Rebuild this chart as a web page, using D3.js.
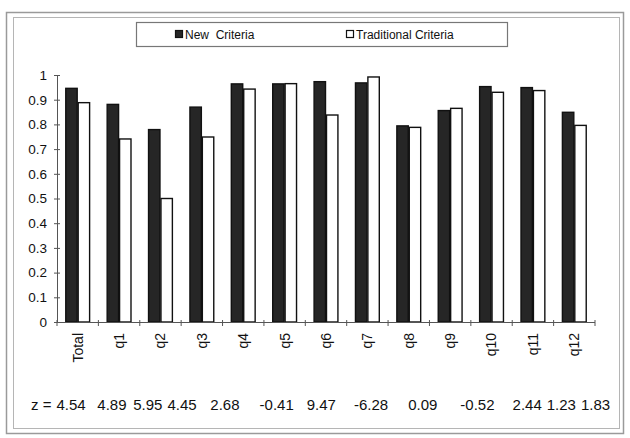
<!DOCTYPE html>
<html>
<head>
<meta charset="utf-8">
<script src="https://cdn.jsdelivr.net/npm/d3@7"></script>
<style>
  html, body { margin: 0; padding: 0; background: #fff; }
  svg { display: block; font-family: Arial, "Liberation Sans", sans-serif; }
</style>
</head>
<body>
<svg id="chart" width="630" height="438"></svg>
<script>
// Categories and the two series of proportions
const categories = ["Total", "q1", "q2", "q3", "q4", "q5", "q6", "q7", "q8", "q9", "q10", "q11", "q12"];
const newCriteria = [0.946, 0.881, 0.779, 0.870, 0.964, 0.964, 0.973, 0.968, 0.794, 0.856, 0.953, 0.949, 0.849];
const traditionalCriteria = [0.888, 0.741, 0.500, 0.749, 0.943, 0.965, 0.838, 0.992, 0.788, 0.865, 0.930, 0.937, 0.796];
const seriesNames = ["New  Criteria", "Traditional Criteria"];
const yTicks = [0, 0.1, 0.2, 0.3, 0.4, 0.5, 0.6, 0.7, 0.8, 0.9, 1];
// z statistics printed under each category
const zValues = ["4.54", "4.89", "5.95", "4.45", "2.68", "-0.41", "9.47", "-6.28", "0.09", "-0.52", "2.44", "1.23", "1.83"];
// spacing (px) typed between consecutive z values on the text line
const zGaps = [0, 11.7, 6.7, 5, 13.7, 20, 13, 18, 20, 23, 18, 5, 5];

const svg = d3.select("#chart");
const plot = { left: 57, right: 595, top: 75, bottom: 322 };

// outer frame (double rule)
svg.append("rect").attr("x", 6.5).attr("y", 12.5).attr("width", 617).attr("height", 421)
  .attr("fill", "none").attr("stroke", "#9a9a9a").attr("stroke-width", 1.5);
svg.append("rect").attr("x", 13.5).attr("y", 17.5).attr("width", 606).attr("height", 411)
  .attr("fill", "none").attr("stroke", "#b5b5b5").attr("stroke-width", 1);

const x = d3.scaleBand().domain(categories).range([plot.left, plot.right])
  .paddingInner(0.4).paddingOuter(0.2);
const x1 = d3.scaleBand().domain([0, 1]).range([0, x.bandwidth()]);
const y = d3.scaleLinear().domain([0, 1]).range([plot.bottom, plot.top]);

// bars
const rows = categories.map((c, i) => ({ c, vals: [newCriteria[i], traditionalCriteria[i]] }));
const g = svg.append("g");
rows.forEach(r => {
  r.vals.forEach((v, k) => {
    g.append("rect")
      .attr("x", x(r.c) + x1(k) + 0.5)
      .attr("y", y(v))
      .attr("width", x1.bandwidth() - 1)
      .attr("height", y(0) - y(v))
      .attr("fill", k === 0 ? "#262626" : "#ffffff")
      .attr("stroke", "#111")
      .attr("stroke-width", 1.4);
  });
});

// y axis
const yAxis = svg.append("g").attr("transform", `translate(${plot.left},0)`)
  .call(d3.axisLeft(y).tickValues(yTicks).tickFormat(d3.format("~g")).tickSizeInner(3).tickSizeOuter(0));
yAxis.select(".domain").attr("stroke", "#555");
yAxis.selectAll(".tick line").attr("stroke", "#555").attr("x1", 3).attr("x2", -3);
yAxis.selectAll(".tick text").attr("x", -10).attr("font-size", 13.5).attr("fill", "#111")
  .attr("font-family", "Arial, 'Liberation Sans', sans-serif");

// x axis with ticks at category boundaries
const xAxisG = svg.append("g");
xAxisG.append("line").attr("x1", plot.left).attr("x2", plot.right)
  .attr("y1", plot.bottom + 0.5).attr("y2", plot.bottom + 0.5).attr("stroke", "#555");
const step = x.step();
const boundaries = categories.map(c => x(c) - (step - x.bandwidth()) / 2).concat([plot.right]);
xAxisG.selectAll(".xt").data(boundaries).join("line")
  .attr("x1", d => d).attr("x2", d => d)
  .attr("y1", plot.bottom - 2).attr("y2", plot.bottom + 4)
  .attr("stroke", "#555");
xAxisG.selectAll(".xl").data(categories).join("text")
  .attr("transform", d => `translate(${x(d) + x.bandwidth() / 2},${plot.bottom + 11}) rotate(-90)`)
  .attr("text-anchor", "end")
  .attr("dy", "0.35em")
  .attr("font-size", 14)
  .attr("fill", "#111")
  .text(d => d);

// legend
const leg = svg.append("g");
leg.append("rect").attr("x", 136.5).attr("y", 22.5).attr("width", 371).attr("height", 24)
  .attr("fill", "#fff").attr("stroke", "#777").attr("stroke-width", 1.2);
const legItems = [{ x: 175, fill: "#262626" }, { x: 346, fill: "#fff" }];
legItems.forEach((it, k) => {
  leg.append("rect").attr("x", it.x + 0.5).attr("y", 30.5).attr("width", 7).attr("height", 7)
    .attr("fill", it.fill).attr("stroke", "#111").attr("stroke-width", 1.2);
  leg.append("text").attr("x", it.x + 10).attr("y", 38.5)
    .attr("font-size", 12).attr("fill", "#111")
    .style("white-space", "pre")
    .text(seriesNames[k]);
});

// z statistics line
const zt = svg.append("text").attr("x", 31).attr("y", 410)
  .attr("font-size", 15).attr("fill", "#111");
zt.append("tspan").text("z =").attr("dx", 0);
zValues.forEach((v, i) => {
  zt.append("tspan").attr("dx", i === 0 ? 5 : zGaps[i]).text(v);
});
</script>
</body>
</html>
